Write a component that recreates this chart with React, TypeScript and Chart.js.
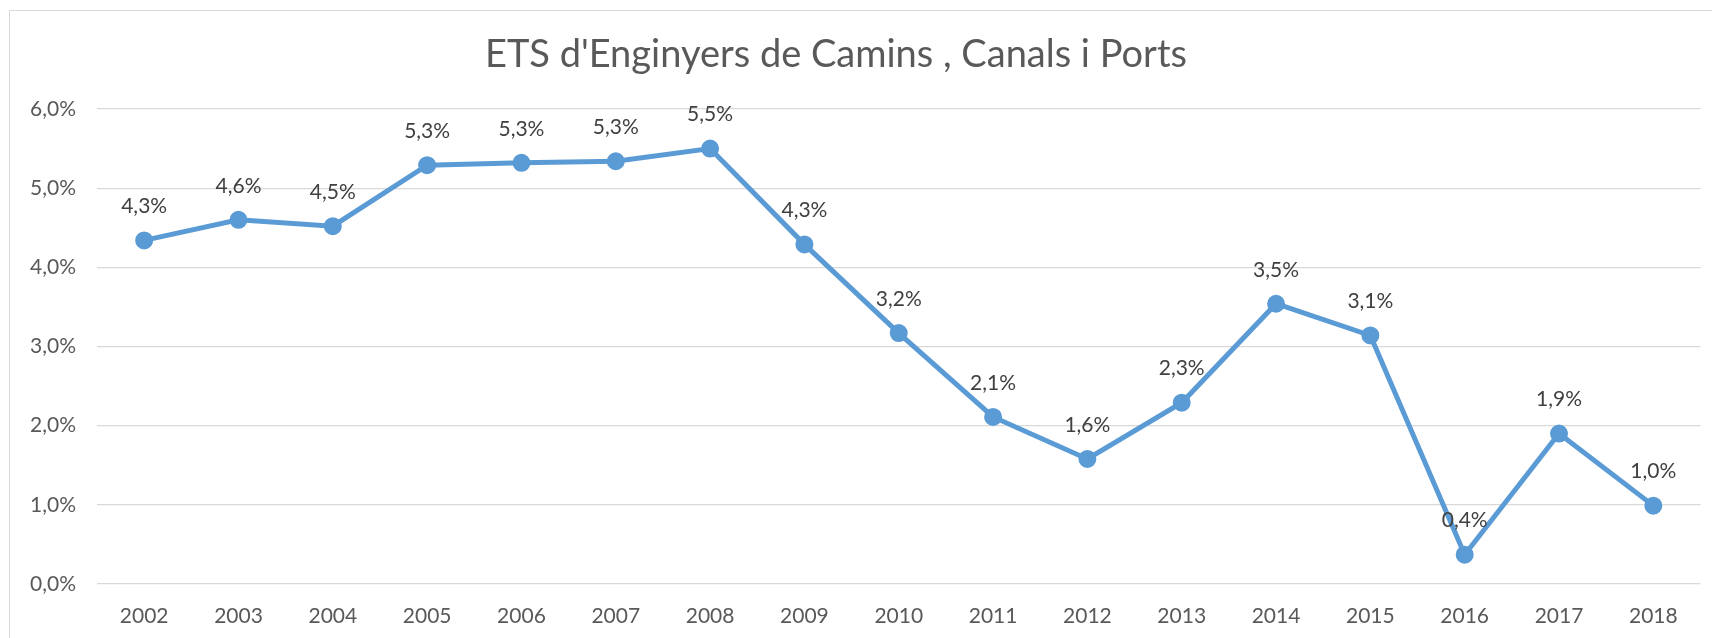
import React, { useEffect, useRef } from "react";
import { Chart, registerables } from "chart.js";

Chart.register(...registerables);

const TITLE = "ETS d'Enginyers de Camins , Canals i Ports";
const years = ["2002","2003","2004","2005","2006","2007","2008","2009","2010","2011","2012","2013","2014","2015","2016","2017","2018"];
const rates = [4.34, 4.60, 4.52, 5.29, 5.32, 5.34, 5.50, 4.29, 3.17, 2.11, 1.58, 2.29, 3.54, 3.14, 0.37, 1.90, 0.99];
const yMin = 0;
const yMax = 6;
const yStep = 1;

const FONT = "Lato, 'Open Sans', sans-serif";
const fmt = (v: number) => v.toFixed(1).replace(".", ",") + "%";

const framePlugin = {
  id: "frame",
  beforeDraw(chart: any) {
    const ctx = chart.ctx;
    ctx.save();
    ctx.fillStyle = "#ffffff";
    ctx.fillRect(0, 0, chart.width, chart.height);
    ctx.strokeStyle = "#D9D9D9";
    ctx.lineWidth = 1;
    ctx.strokeRect(9.5, 10.5, chart.width + 20, chart.height + 20);
    ctx.fillStyle = "#595959";
    ctx.font = `38px ${FONT}`;
    ctx.textAlign = "center";
    ctx.textBaseline = "middle";
    ctx.fillText(TITLE, 836, 55);
    ctx.restore();
  },
};

const labelPlugin = {
  id: "pointLabels",
  afterDatasetsDraw(chart: any) {
    const ctx = chart.ctx;
    const meta = chart.getDatasetMeta(0);
    ctx.save();
    ctx.fillStyle = "#404040";
    ctx.font = `21px ${FONT}`;
    ctx.textAlign = "center";
    ctx.textBaseline = "middle";
    meta.data.forEach((pt: any, i: number) => {
      ctx.fillText(fmt(rates[i]), pt.x, pt.y - 34);
    });
    ctx.restore();
  },
};

export default function App() {
  const ref = useRef<HTMLCanvasElement | null>(null);
  useEffect(() => {
    if (!ref.current) return;
    const chart = new Chart(ref.current, {
      type: "line",
      data: {
        labels: years,
        datasets: [
          {
            data: rates,
            borderColor: "#5B9BD5",
            backgroundColor: "#5B9BD5",
            borderWidth: 5,
            pointRadius: 6.5,
            pointBackgroundColor: "#5B9BD5",
            pointBorderColor: "#5B9BD5",
            tension: 0,
          },
        ],
      },
      options: {
        responsive: false,
        animation: false,
        layout: { padding: { top: 109, right: 8, left: 0, bottom: 0 } },
        plugins: {
          legend: { display: false },
          title: { display: false },
          tooltip: { enabled: false },
        },
        scales: {
          x: {
            offset: true,
            grid: { display: false, offset: true },
            border: { display: false },
            ticks: {
              color: "#595959",
              font: { family: FONT, size: 21 },
              padding: 12,
              maxRotation: 0,
            },
            afterFit(scale: any) {
              scale.height = 54;
            },
          },
          y: {
            min: yMin,
            max: yMax,
            grid: { color: "#D9D9D9", lineWidth: 1.3, drawTicks: false },
            border: { display: false },
            ticks: {
              stepSize: yStep,
              color: "#595959",
              font: { family: FONT, size: 21 },
              padding: 21,
              callback: (v: any) => fmt(Number(v)),
            },
            afterFit(scale: any) {
              scale.width = 97;
            },
          },
        },
      },
      plugins: [framePlugin, labelPlugin],
    });
    return () => chart.destroy();
  }, []);
  return (
    <canvas
      ref={ref}
      width={1712}
      height={638}
      style={{ position: "fixed", left: 0, top: 0, width: 1712, height: 638 }}
    />
  );
}
